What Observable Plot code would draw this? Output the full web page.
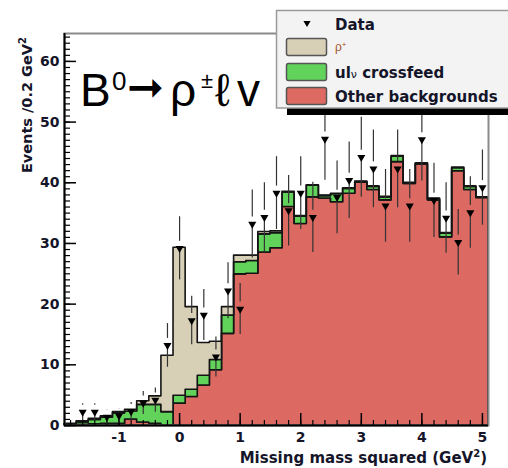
<!DOCTYPE html>
<html><head><meta charset="utf-8">
<script src="https://cdn.jsdelivr.net/npm/d3@7"></script>
<script src="https://cdn.jsdelivr.net/npm/@observablehq/plot@0.6"></script>
<style>body{margin:0;background:#fff;} #chart svg{display:block;}</style>
</head><body><div id="chart"></div>
<script>
// ---- data ----
const binCenters = [-1.8,-1.6,-1.4,-1.2,-1.0,-0.8,-0.6,-0.4,-0.2,0.0,0.2,0.4,0.6,0.8,1.0,1.2,1.4,1.6,1.8,2.0,2.2,2.4,2.6,2.8,3.0,3.2,3.4,3.6,3.8,4.0,4.2,4.4,4.6,4.8,5.0];
const binWidth = 0.2;
const otherBackgrounds = [0,0.1,0.2,0.3,0.3,1.0,0.5,0.3,0,3.6,4.7,6.6,9.1,15.1,24.9,25.0,28.5,29.2,36.0,33.2,37.6,37.4,36.8,38.2,40.0,38.8,37.1,43.4,39.8,43.0,37.1,31.0,41.9,38.8,37.5];
const ulvCrossfeed = [0.2,0.4,0.7,1.0,1.7,1.3,2.9,3.1,2.2,1.3,1.2,1.6,1.7,3.0,2.0,2.1,3.0,2.5,2.4,1.2,1.9,0.4,1.3,0.8,0.1,0.5,0.5,0.9,0.1,0.1,0.2,0.6,0.5,0.5,0.0];
const rhoSignal = [0.1,0.2,0.2,0.2,0.2,0.3,0.6,1.4,9.3,24.4,13.6,5.4,3.0,1.4,1.1,0.9,0.4,0.3,0.1,0.1,0.1,0.1,0.1,0.1,0.1,0.1,0.1,0.1,0.1,0.1,0.1,0.1,0.1,0.1,0.1];

const dataCenters = [-1.6,-1.4,-1.2,-1.0,-0.8,-0.6,-0.4,-0.2,0.0,0.2,0.4,0.6,0.8,1.0,1.2,1.4,1.6,1.8,2.0,2.2,2.4,2.6,2.8,3.0,3.2,3.4,3.6,3.8,4.0,4.2,4.4,4.6,4.8,5.0];
const dataEvents = [2.2,2.2,1.4,1.6,2.3,3.7,4.2,13.2,29.2,17.3,18.2,11.3,22.2,19.2,33.2,34.3,38.3,35.4,38.3,34.3,47.2,37.6,40.4,44.2,42.3,36.2,42.3,36.2,47.1,37.1,34.2,30.2,35.1,39.2];
const dataErrors = [1.4,1.4,1.2,1.2,1.5,1.9,2.0,3.6,5.2,4.0,4.2,3.3,4.6,4.2,5.6,5.7,6.0,5.8,6.0,5.8,6.8,6.0,6.3,6.6,6.4,6.0,6.4,6.0,6.8,6.1,5.8,5.4,5.9,6.2];

const seriesNames = ["Other backgrounds", "ulν crossfeed", "ρ+"];
const seriesColors = ["#dc6a62", "#62d35a", "#d8cfb7"];
const seriesValues = [otherBackgrounds, ulvCrossfeed, rhoSignal];

const xMajorTicks = [-1, 0, 1, 2, 3, 4, 5];
const yMajorTicks = [0, 10, 20, 30, 40, 50, 60];

// ---- tables ----
const histRows = [];
seriesNames.forEach((name, s) => {
  binCenters.forEach((c, i) => histRows.push({edge: c - binWidth / 2, value: seriesValues[s][i], series: name}));
  const last = binCenters.length - 1;
  histRows.push({edge: binCenters[last] + binWidth / 2, value: seriesValues[s][last], series: name});
});
const points = dataCenters.map((c, i) => ({c, v: dataEvents[i], e: dataErrors[i]}));

const xMinor = d3.range(-9, 26).map(i => i / 5);
const yMinor = d3.range(0, 65);
const tickFont = {fontSize: 14, fontWeight: "bold", fontFamily: "DejaVu Sans", fill: "#15152a", tickFormat: d => String(d)};

const chart = Plot.plot({
  width: 508, height: 468,
  marginLeft: 64, marginRight: 20, marginTop: 33, marginBottom: 43,
  style: {background: "#fff", overflow: "visible"},
  x: {domain: [-1.9, 5.1]},
  y: {domain: [0, 64.6]},
  color: {domain: seriesNames, range: seriesColors},
  marks: [
    Plot.areaY(histRows, {x: "edge", y: "value", z: "series", fill: "series", curve: "step-after", stroke: "#141414", strokeWidth: 1.6}),
    Plot.frame({stroke: "#8a8a8a", strokeWidth: 2}),
    Plot.ruleX([-1.9], {stroke: "#000", strokeWidth: 2}),
    Plot.ruleY([0], {stroke: "#000", strokeWidth: 2}),
    Plot.axisY({ticks: yMinor, tickSize: -6, tickFormat: () => "", label: null, strokeWidth: 1.2}),
    Plot.axisY({ticks: yMajorTicks, tickSize: -12, tickFormat: () => "", label: null, strokeWidth: 1.5}),
    Plot.axisY({ticks: yMajorTicks, tickSize: 0, tickPadding: 5, label: null, ...tickFont}),
    Plot.axisX({ticks: xMinor, tickSize: -5, tickFormat: () => "", label: null, strokeWidth: 1.2}),
    Plot.axisX({ticks: xMajorTicks, tickSize: -12, tickFormat: () => "", label: null, strokeWidth: 1.5}),
    Plot.axisX({ticks: xMajorTicks, tickSize: 0, tickPadding: 7, label: null, ...tickFont}),
    Plot.ruleX(points, {x: "c", y1: d => d.v + d.e, y2: "v", insetBottom: 7, stroke: "#333", strokeWidth: 1.2}),
    Plot.ruleX(points, {x: "c", y1: "v", y2: d => d.v - d.e, insetTop: 3, stroke: "#333", strokeWidth: 1.2}),
    Plot.dot(points, {x: "c", y: "v", symbol: "triangle", rotate: 180, r: 3, fill: "#000", stroke: "none"})
  ]
});
document.getElementById("chart").appendChild(chart);

// ---- titles, legend ----
const svg = d3.select(chart).append("g").attr("text-anchor", "start");
const bold = "DejaVu Sans";

svg.append("text").attr("x", 487).attr("y", 463).attr("text-anchor", "end")
  .attr("font-family", bold).attr("font-weight", "bold").attr("font-size", 15).attr("fill", "#15152a")
  .call(t => { t.append("tspan").text("Missing mass squared (GeV"); t.append("tspan").attr("dy", -6).attr("font-size", 10).text("2"); t.append("tspan").attr("dy", 6).text(")"); });

svg.append("text").attr("transform", "translate(32,37) rotate(-90)").attr("text-anchor", "end")
  .attr("font-family", bold).attr("font-weight", "bold").attr("font-size", 14.5).attr("fill", "#15152a")
  .call(t => { t.append("tspan").text("Events /0.2 GeV"); t.append("tspan").attr("dy", -6).attr("font-size", 10).text("2"); });

// big annotation
const tf = "Liberation Sans, Arial, sans-serif";
const ann = svg.append("g").attr("fill", "#000").attr("font-family", tf);
ann.append("text").attr("x", 80).attr("y", 106).attr("font-size", 46).text("B");
ann.append("text").attr("x", 112).attr("y", 90).attr("font-size", 26).text("0");
ann.append("text").attr("x", 127).attr("y", 102).attr("font-size", 44).attr("font-family", "DejaVu Sans").attr("font-weight", "bold").text("➞");
ann.append("text").attr("x", 170).attr("y", 106).attr("font-size", 46).text("ρ");
ann.append("text").attr("x", 201).attr("y", 88).attr("font-size", 22).text("±");
ann.append("text").attr("x", 215).attr("y", 106).attr("font-size", 46).text("ℓ");
ann.append("text").attr("x", 237).attr("y", 106).attr("font-size", 46).text("v");

// legend
const lg = svg.append("g");
lg.append("rect").attr("x", 287).attr("y", 20).attr("width", 300).attr("height", 95).attr("fill", "#000");
lg.append("rect").attr("x", 276.5).attr("y", 10.5).attr("width", 300).attr("height", 97.5)
  .attr("fill", "#f3f3f3").attr("stroke", "#9a9a9a").attr("stroke-width", 1.5);
lg.append("path").attr("transform", "translate(307,23) rotate(180)")
  .attr("d", d3.symbol(d3.symbolTriangle, 22)()).attr("fill", "#000");
const legendText = (y) => lg.append("text").attr("x", 335).attr("y", y)
  .attr("font-family", bold).attr("font-weight", "bold").attr("font-size", 15).attr("fill", "#15152a");
legendText(30).text("Data");
const swatchY = [38, 63, 87];
[2, 1, 0].forEach((s, k) => {
  lg.append("rect").attr("x", 286.5).attr("y", swatchY[k] + 0.5).attr("width", 40).attr("height", 17).attr("rx", 2)
    .attr("fill", seriesColors[s]).attr("stroke", "#555").attr("stroke-width", 1.5);
});
lg.append("text").attr("x", 335).attr("y", 51).attr("font-family", tf).attr("font-size", 12).attr("fill", "#a0522d")
  .call(t => { t.append("tspan").text("ρ"); t.append("tspan").attr("dy", -4).attr("font-size", 8).text("+"); });
legendText(78).call(t => { t.append("tspan").text("ul"); t.append("tspan").attr("font-size", 11).attr("font-weight", "normal").text("ν"); t.append("tspan").text(" crossfeed"); });
legendText(102).text("Other backgrounds");
</script>
</body></html>
